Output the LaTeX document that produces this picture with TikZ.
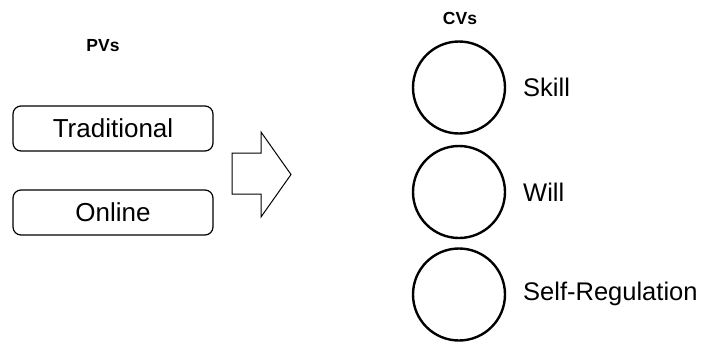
\documentclass[tikz,border=0pt]{standalone}
\usepackage{fontspec}
\setmainfont{Liberation Sans}
\begin{document}
\begin{tikzpicture}[x=1pt,y=-1pt,
  heading/.style={font=\fontsize{17.5}{20}\selectfont\bfseries},
  pvbox/.style={draw, line width=1.2pt, rounded corners=8pt, minimum width=200pt, minimum height=45pt, inner sep=0pt, font=\fontsize{26}{29}\selectfont},
  cvcircle/.style={draw, line width=2.4pt, circle, minimum size=92pt, inner sep=0pt},
  cvlabel/.style={anchor=west, inner sep=0pt, font=\fontsize{25.5}{28}\selectfont}]
\useasboundingbox (0,0) rectangle (705,343);
% left column: predictor variables
\node[heading] (pvs) at (103,46) {PVs};
\node[pvbox] (trad) at (113,128.5) {Traditional};
\node[pvbox] (online) at (113,212.5) {Online};
% block arrow
\draw[line width=1pt, line join=miter] (232,153) -- (261,153) -- (261,132) -- (291,174.5) -- (261,217) -- (261,194) -- (232,194) -- cycle;
% right column: criterion variables
\node[heading] (cvs) at (460,18) {CVs};
\node[cvcircle] (c1) at (459,87.5) {};
\node[cvcircle] (c2) at (459,192) {};
\node[cvcircle] (c3) at (459,294.5) {};
\node[cvlabel] (skill) at (523,87) {Skill};
\node[cvlabel] (will) at (523,192) {Will};
\node[cvlabel] (selfreg) at (523,294) {Self-Regulation};
\end{tikzpicture}
\end{document}
